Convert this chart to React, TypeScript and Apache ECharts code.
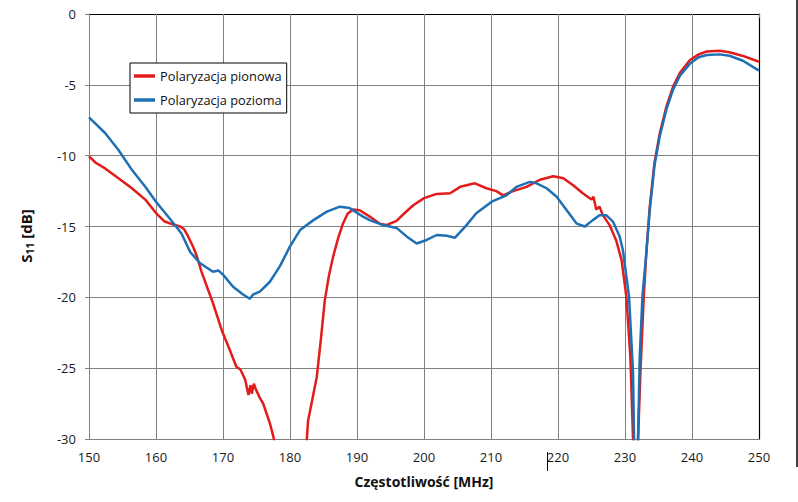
import React, { useEffect, useRef } from "react";
import * as echarts from "echarts";

// Frequency [MHz] and S11 [dB] readings, vertical polarisation
const redFreq = [
  150, 151, 152.4, 154.4, 156.4, 158.4, 160, 161.3, 162.8, 163.6, 164.2, 164.8,
  165.6, 166.1, 166.8, 167.8, 168.5, 169.8, 171, 172, 172.6, 173.3, 173.8, 174.1,
  174.3, 174.6, 175, 175.5, 176, 176.5, 177, 177.5, 178.5, 180, 181.5, 182.3,
  182.5, 182.7, 183, 183.5, 184, 184.6, 185.2, 185.8, 186.45, 187.2, 187.9, 188.6,
  189.4, 190.4, 191.9, 193.4, 194.4, 195.9, 197, 198.4, 200, 201.9, 203.9, 205.4,
  207.6, 209.3, 210.8, 211.8, 213.3, 215.3, 217.3, 219.3, 220.8, 222.3, 223.7, 225,
  225.3, 225.7, 226.2, 226.7, 227.7, 228.7, 229.5, 230.2, 230.8, 231.2, 231.6, 231.95,
  232.3, 232.8, 233.2, 233.7, 234.4, 235.2, 236.2, 237.2, 238.2, 239.7, 241, 242.2,
  244.1, 245.6, 247.6, 250,
];
const redS11 = [
  -10.05, -10.5, -10.9, -11.6, -12.3, -13.1, -14.05, -14.65, -14.9, -15.0, -15.2, -15.7,
  -16.5, -17.1, -18.2, -19.5, -20.4, -22.3, -23.7, -24.9, -25.1, -25.8, -26.9, -26.2,
  -26.8, -26.1, -26.6, -27.1, -27.5, -28.2, -28.9, -29.8, -32, -34, -33, -31,
  -30.1, -28.7, -28.0, -26.8, -25.6, -23.0, -20.2, -18.5, -17.1, -15.8, -14.8, -14.1,
  -13.8, -13.85, -14.3, -14.8, -14.9, -14.6, -14.1, -13.5, -13.0, -12.7, -12.65, -12.2,
  -11.95, -12.3, -12.5, -12.8, -12.5, -12.2, -11.7, -11.45, -11.6, -12.1, -12.65, -13.1,
  -12.9, -13.8, -13.6, -14.2, -14.9, -16.0, -17.4, -19.95, -24.2, -30, -45, -30,
  -25.3, -19.95, -16.7, -13.6, -10.5, -8.4, -6.5, -5.1, -4.15, -3.25, -2.85, -2.65,
  -2.6, -2.7, -2.96, -3.37,
];

// Horizontal polarisation
const blueFreq = [
  150, 152.4, 154.4, 156.4, 158.4, 160, 161.8, 163, 163.8, 165.1, 166.6, 168.5,
  169.3, 170, 171.5, 173, 174, 174.5, 175.5, 177, 178.5, 180, 181.5, 183.5,
  185.5, 187.45, 188.9, 190.9, 191.9, 193.9, 195.9, 197.4, 198.9, 200.4, 201.9, 203.4,
  204.6, 206.35, 207.8, 210.1, 212.3, 213.8, 215.8, 216.8, 218.3, 219.8, 221.3, 222.8,
  224, 225.2, 226.2, 227.2, 228.2, 229.2, 229.7, 230.6, 231.2, 231.35, 231.6, 231.95,
  232.2, 232.6, 233.2, 233.7, 234.4, 235.2, 236.2, 237.2, 238.2, 239.7, 241, 242.2,
  244.1, 245.6, 247.6, 250,
];
const blueS11 = [
  -7.3, -8.4, -9.6, -11.0, -12.2, -13.25, -14.3, -15.0, -15.5, -16.8, -17.6, -18.2,
  -18.1, -18.4, -19.25, -19.8, -20.1, -19.8, -19.6, -18.9, -17.8, -16.4, -15.25, -14.55,
  -13.95, -13.6, -13.7, -14.3, -14.55, -14.9, -15.1, -15.7, -16.2, -15.95, -15.6, -15.65,
  -15.8, -14.9, -14.07, -13.25, -12.8, -12.2, -11.85, -11.95, -12.3, -12.9, -13.85, -14.8,
  -15.0, -14.55, -14.2, -14.2, -14.65, -15.7, -16.7, -19.95, -25.3, -30, -45, -30,
  -24.2, -19.95, -16.8, -13.8, -10.7, -8.6, -6.7, -5.3, -4.35, -3.5, -3.05, -2.9,
  -2.85, -2.95, -3.3, -4.0,
];

const seriesNames = ["Polaryzacja pionowa", "Polaryzacja pozioma"];
const xTitle = "Częstotliwość [MHz]";

const FONT = "'Open Sans', 'Noto Sans', sans-serif";

export default function App() {
  const ref = useRef<HTMLDivElement>(null);

  useEffect(() => {
    document.body.style.margin = "0";
    if (!ref.current) return;
    const chart = echarts.init(ref.current, undefined, { renderer: "svg" });
    const zip = (xs: number[], ys: number[]) => xs.map((x, i) => [x, ys[i]]);
    const axisLabel = { color: "#1a1a1a", fontSize: 13, fontFamily: FONT };
    chart.setOption({
      animation: false,
      backgroundColor: "#ffffff",
      textStyle: { fontFamily: FONT },
      grid: { left: 89, right: 39, top: 14, bottom: 63, containLabel: false },
      legend: {
        orient: "vertical",
        left: 130,
        top: 63,
        data: seriesNames,
        icon: "rect",
        itemWidth: 21,
        itemHeight: 3.5,
        itemGap: 8,
        padding: [5, 5, 5, 4],
        borderColor: "#000",
        borderWidth: 1,
        backgroundColor: "#fff",
        textStyle: { fontSize: 12.8, color: "#111", fontFamily: FONT, lineHeight: 16 },
      },
      xAxis: [
        {
          type: "value",
          min: 150,
          max: 250,
          interval: 10,
          name: xTitle,
          nameLocation: "middle",
          nameGap: 35,
          nameTextStyle: { fontSize: 14, fontWeight: "bold", color: "#111", fontFamily: FONT },
          axisLine: { show: true, lineStyle: { color: "#808080", width: 1 } },
          axisTick: { show: true, length: 4, lineStyle: { color: "#808080" } },
          axisLabel: { ...axisLabel, margin: 11 },
          splitLine: { show: true, lineStyle: { color: "#808080", width: 1 } },
        },
        {
          type: "value",
          position: "top",
          min: 150,
          max: 250,
          interval: 10,
          axisLine: { show: true, lineStyle: { color: "#000", width: 1.2 } },
          axisTick: { show: false },
          axisLabel: { show: false },
          splitLine: { show: false },
        },
      ],
      yAxis: [
        {
          type: "value",
          min: -30,
          max: 0,
          interval: 5,
          axisLine: { show: true, lineStyle: { color: "#808080", width: 1 } },
          axisTick: { show: true, length: 4, lineStyle: { color: "#808080" } },
          axisLabel: { ...axisLabel, margin: 13 },
          splitLine: { show: true, lineStyle: { color: "#808080", width: 1 } },
        },
        {
          type: "value",
          position: "right",
          min: -30,
          max: 0,
          interval: 5,
          axisLine: { show: true, lineStyle: { color: "#000", width: 1.2 } },
          axisTick: { show: false },
          axisLabel: { show: false },
          splitLine: { show: false },
        },
      ],
      series: [
        {
          name: seriesNames[0],
          type: "line",
          data: zip(redFreq, redS11),
          showSymbol: false,
          symbol: "none",
          color: "#e31b1b",
          lineStyle: { color: "#e31b1b", width: 2.5 },
          clip: true,
        },
        {
          name: seriesNames[1],
          type: "line",
          data: zip(blueFreq, blueS11),
          showSymbol: false,
          symbol: "none",
          color: "#1f6fb4",
          lineStyle: { color: "#1f6fb4", width: 2.5 },
          clip: true,
        },
      ],
      graphic: [
        {
          type: "text",
          x: 26,
          y: 236,
          rotation: Math.PI / 2,
          style: {
            text: "{s|S}{sub|11}{s| [dB]}",
            align: "center",
            verticalAlign: "middle",
            fill: "#111",
            rich: {
              s: { fontSize: 15, fontWeight: "bold", fontFamily: FONT, fill: "#111" },
              sub: { fontSize: 10.5, fontWeight: "bold", fontFamily: FONT, fill: "#111", padding: [8, 0, 0, 0] },
            },
          },
        },
        {
          type: "line",
          shape: { x1: 547.5, y1: 452, x2: 547.5, y2: 471 },
          style: { stroke: "#000", lineWidth: 1 },
        },
        {
          type: "line",
          shape: { x1: 797, y1: 0, x2: 797, y2: 467 },
          style: { stroke: "#000", lineWidth: 1.5 },
        },
      ],
    });
    return () => chart.dispose();
  }, []);

  return <div ref={ref} style={{ width: 798, height: 502 }} />;
}
